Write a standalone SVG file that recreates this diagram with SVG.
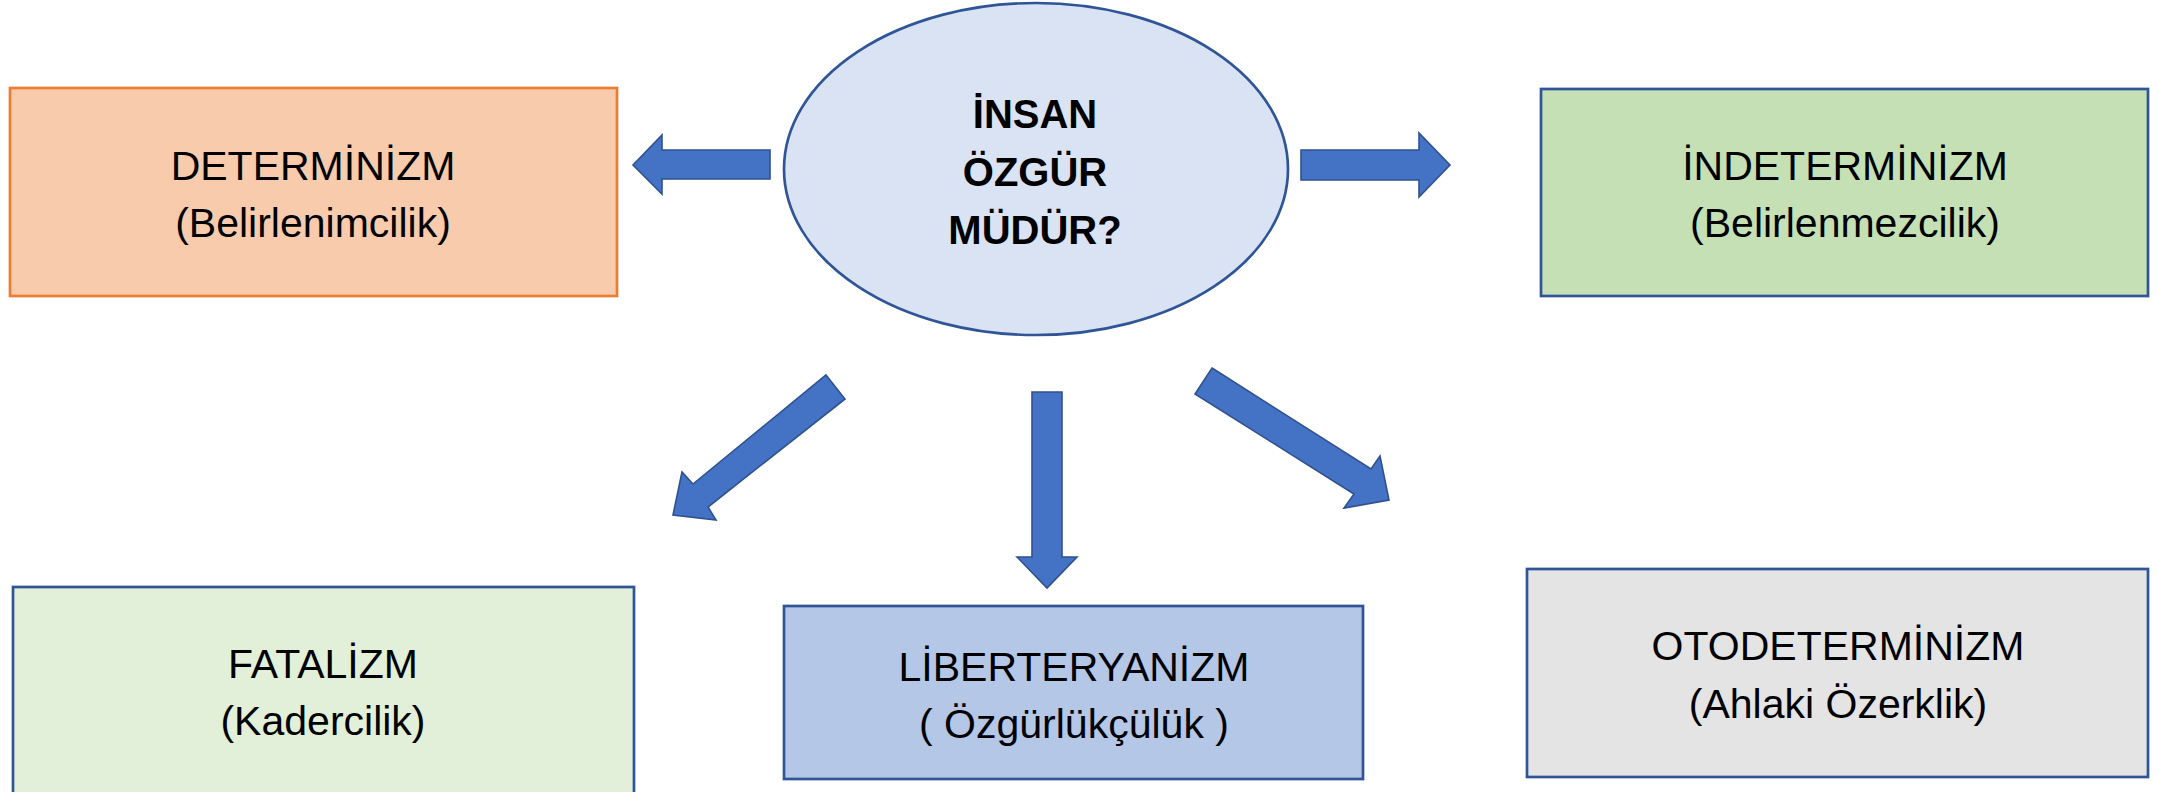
<svg xmlns="http://www.w3.org/2000/svg" width="2159" height="792" viewBox="0 0 2159 792">
<style>
.lbl{font-family:"Liberation Sans",Arial,sans-serif;font-size:41px;fill:#000;text-anchor:middle}
.ttl{font-family:"Liberation Sans",Arial,sans-serif;font-size:40px;font-weight:bold;fill:#000;text-anchor:middle}
.box{stroke:#2F5597;stroke-width:2.7}
.arr{fill:#4472C4;stroke:#2F528F;stroke-width:1.6;stroke-linejoin:miter}
</style>
<rect width="2159" height="792" fill="#fff"/>
<g id="center">
<ellipse cx="1036" cy="169" rx="252" ry="166" fill="#DAE3F3" stroke="#2F5597" stroke-width="2.7"/>
<text class="ttl" x="1035" y="128">İNSAN</text>
<text class="ttl" x="1035" y="186">ÖZGÜR</text>
<text class="ttl" x="1035" y="244">MÜDÜR?</text>
</g>
<g id="determinizm">
<rect x="10" y="88" width="607" height="208" fill="#F8CBAD" stroke="#ED7D31" stroke-width="2.7"/>
<text class="lbl" x="313" y="180">DETERMİNİZM</text>
<text class="lbl" x="313" y="237">(Belirlenimcilik)</text>
</g>
<g id="indeterminizm">
<rect class="box" x="1541" y="89" width="607" height="207" fill="#C5E0B4"/>
<text class="lbl" x="1845" y="180">İNDETERMİNİZM</text>
<text class="lbl" x="1845" y="237">(Belirlenmezcilik)</text>
</g>
<g id="fatalizm">
<rect class="box" x="13" y="587" width="621" height="230" fill="#E2F0D9"/>
<text class="lbl" x="323" y="678">FATALİZM</text>
<text class="lbl" x="323" y="735">(Kadercilik)</text>
</g>
<g id="liberteryanizm">
<rect class="box" x="784" y="606" width="579" height="173" fill="#B4C7E7"/>
<text class="lbl" x="1074" y="681">LİBERTERYANİZM</text>
<text class="lbl" x="1074" y="738">( Özgürlükçülük )</text>
</g>
<g id="otodeterminizm">
<rect class="box" x="1527" y="569" width="621" height="208" fill="#E4E4E4"/>
<text class="lbl" x="1838" y="660">OTODETERMİNİZM</text>
<text class="lbl" x="1838" y="718">(Ahlaki Özerklik)</text>
</g>
<g id="connectors">
<polygon class="arr" points="770,150 662,150 662,135 633,165 662,194 662,179 770,179"/>
<polygon class="arr" points="1301,150 1419,150 1419,133 1450,165 1419,197 1419,180 1301,180"/>
<polygon class="arr" points="1032,392 1062,392 1062,557 1077,557 1047,588 1017,557 1032,557"/>
<polygon class="arr" points="826,375 845,399 708,507 716,520 673,515 682,472 693,484"/>
<polygon class="arr" points="1212,368 1371,469 1380,456 1389,500 1344,508 1354,494 1195,394"/>
</g>
</svg>
